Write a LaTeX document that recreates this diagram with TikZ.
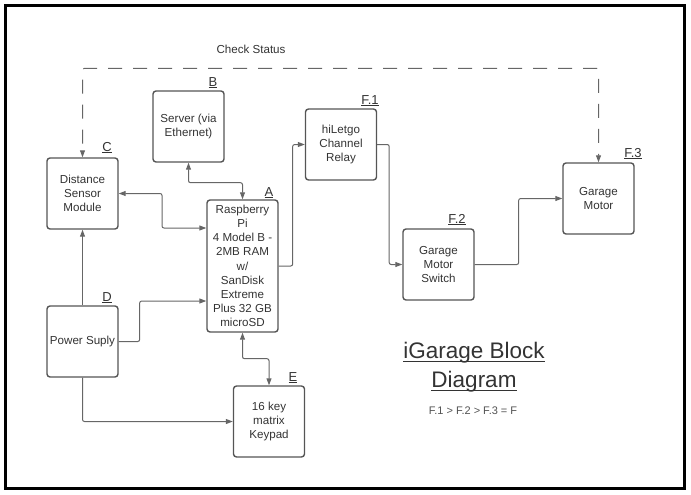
\documentclass[tikz,border=0pt]{standalone}
\usepackage{fontspec}
\setmainfont{Liberation Sans}
\usetikzlibrary{arrows.meta}
\definecolor{boxc}{HTML}{555555}
\definecolor{txt}{HTML}{333333}
\definecolor{linec}{HTML}{666666}
\newcommand\myul[3]{\setbox0\hbox{#1}\rlap{\rule[-#2]{\wd0}{#3}}\box0}
\begin{document}
\begin{tikzpicture}[x=1pt,y=-1pt,
  >={Triangle[length=7pt,width=5pt]},
  blk/.style={draw=boxc, line width=1.4pt, rounded corners=3pt,
    minimum width=71pt, minimum height=71pt, align=center, text=txt,
    font=\fontsize{11.6}{14.2}\selectfont, inner sep=1pt},
  lbl/.style={text=txt, font=\fontsize{13}{15}\selectfont, inner sep=0pt, anchor=base},
  conn/.style={draw=linec, line width=1pt, rounded corners=2pt},
  dsh/.style={conn, dash pattern=on 14pt off 11pt, dash phase=18pt},
  txtn/.style={text=txt, inner sep=0pt, anchor=base}]
\useasboundingbox (0,0) rectangle (691,495);
\draw[line width=3pt] (5.5,5.5) rectangle (684.5,488.5);

% blocks
\node[blk] (B) at (188.5,126.5) {Server (via\\Ethernet)};
\node[blk] (C) at (82.5,193.5) {Distance\\Sensor\\Module};
\node[blk, minimum height=132pt] (A) at (242.5,266) {Raspberry\\Pi\\4 Model B -\\2MB RAM\\w/\\SanDisk\\Extreme\\Plus 32 GB\\microSD};
\node[blk] (D) at (82.5,341.5) {Power Suply};
\node[blk] (E) at (269,421.5) {16 key\\matrix\\Keypad};
\node[blk] (F1) at (341,144.5) {hiLetgo\\Channel\\Relay};
\node[blk] (F2) at (438.5,264.5) {Garage\\Motor\\Switch};
\node[blk] (F3) at (598.5,198.5) {Garage\\Motor};

% letter labels
\node[lbl] (lA) at (269,196) {\myul{A}{2pt}{0.9pt}};
\node[lbl] (lB) at (213,86) {\myul{B}{2pt}{0.9pt}};
\node[lbl] (lC) at (107,151) {\myul{C}{2pt}{0.9pt}};
\node[lbl] (lD) at (107,301) {\myul{D}{2pt}{0.9pt}};
\node[lbl] (lE) at (293,381) {\myul{E}{2pt}{0.9pt}};
\node[lbl] (lF1) at (370,104) {\myul{F.1}{2pt}{0.9pt}};
\node[lbl] (lF2) at (457,223) {\myul{F.2}{2pt}{0.9pt}};
\node[lbl] (lF3) at (633,157) {\myul{F.3}{2pt}{0.9pt}};

% connectors
\draw[conn,<->] (C.east) -| (162,228) -- ([yshift=38pt]A.west);
\draw[conn,<->] (B.south) -- ++(0,20) -| (A.north);
\draw[conn,->] (A.east) -- ++(14,0) |- (F1.west);
\draw[conn,->] (F1.east) -- ++(12,0) |- (F2.west);
\draw[conn,->] (F2.east) -- ++(44,0) |- (F3.west);
\draw[conn,->] (D.north) -- (C.south);
\draw[conn,->] (D.east) -- ++(21,0) |- ([yshift=-35pt]A.west);
\draw[conn,->] (D.south) |- (E.west);
\draw[conn,<->] (A.south) -- ++(0,26) -| (E.north);
\draw[dsh,<->] (C.north) -- ++(0,-89) -| (F3.north);

\node[txtn, font=\fontsize{11.6}{14}\selectfont] (cs) at (251,54) {Check Status};

% title
\node[txtn, font=\fontsize{22.5}{29}\selectfont] (t1) at (474,358) {\myul{iGarage Block}{4pt}{1.3pt}};
\node[txtn, font=\fontsize{22.5}{29}\selectfont] (t2) at (474,387) {\myul{Diagram}{4pt}{1.3pt}};
\node[txtn, text=txt!85, font=\fontsize{11}{13}\selectfont] (eq) at (473,414) {F.1 > F.2 > F.3 = F};
\end{tikzpicture}
\end{document}
